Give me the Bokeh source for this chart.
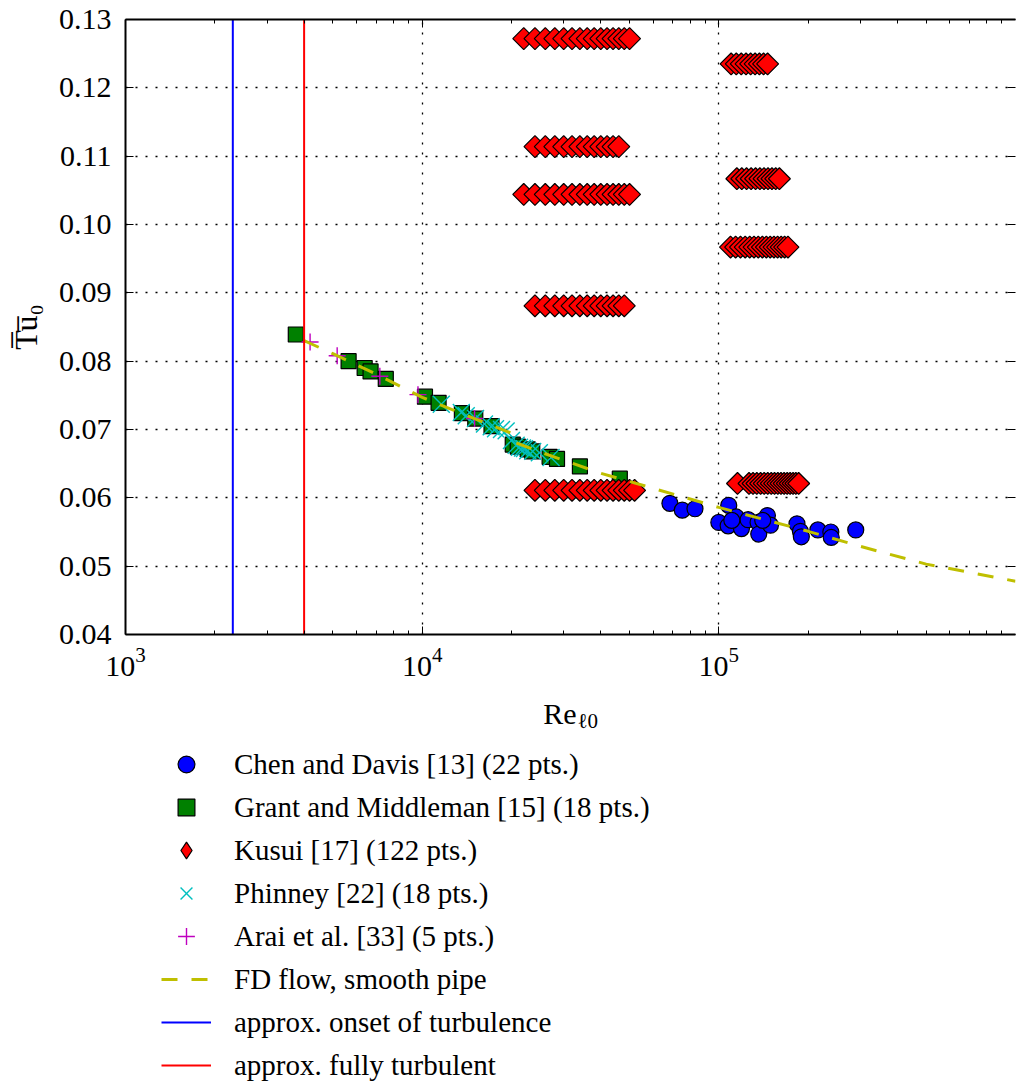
import numpy as np
from bokeh.plotting import figure
from bokeh.layouts import column
from bokeh.models import (FixedTicker, LogAxis, LinearAxis, Legend, LegendItem,
                          Label, PrintfTickFormatter, Range1d, CustomJSTickFormatter)
from bokeh.embed import file_html
from bokeh.resources import INLINE

FONT = "Liberation Serif"

# ---------------- data ----------------
chen_re = [68400, 75300, 83100, 108000, 100000, 107500, 114400, 119200, 125500, 135600, 136300,
           145800, 149300, 183400, 188300, 189700, 215700, 238500, 239300, 289400, 110600, 140600]
chen_tu = [0.0592, 0.0582, 0.0584, 0.0589, 0.0564, 0.0559, 0.0572, 0.0555, 0.0568, 0.0564, 0.0547,
           0.0574, 0.0560, 0.0562, 0.0551, 0.0543, 0.0553, 0.0550, 0.0542, 0.0553, 0.0567, 0.0567]

grant_re = [3750, 5650, 6400, 6700, 7540, 10220, 11360, 13610, 15100, 17130, 20200, 21000,
            22680, 23500, 26890, 28480, 34020, 46370]
grant_tu = [0.0839, 0.0800, 0.0790, 0.0785, 0.0774, 0.0748, 0.0739, 0.0724, 0.0716, 0.0705, 0.0678,
            0.0675, 0.0671, 0.0668, 0.0660, 0.0657, 0.0646, 0.0628]

kusui_rows = [
    (0.1272, [22000, 24000, 26000, 28000, 30000, 32000, 34000, 36000, 38000, 40000, 42000, 44000,
              46000, 48000, 50000]),
    (0.1114, [24000, 26000, 28000, 30000, 32000, 34000, 36000, 38000, 40000, 42000, 44000, 46000]),
    (0.1044, [22000, 24000, 26000, 28000, 30000, 32000, 34000, 36000, 38000, 40000, 42000, 44000,
              46000, 48000, 50000]),
    (0.0881, [24000, 26000, 28000, 30000, 32000, 34000, 36000, 38000, 40000, 42000, 44000, 46000,
              48000]),
    (0.0611, [24000, 26000, 28000, 30000, 32000, 34000, 36000, 38000, 40000, 42000, 44000, 46000,
              48000, 50000, 52000]),
    (0.1235, [110000, 114500, 119000, 123500, 128000, 132500, 137000, 141500, 146000]),
    (0.1067, [115000, 119500, 124000, 128500, 133000, 137500, 142000, 146500, 151000, 155500,
              160000]),
    (0.0967, [109500, 113900, 118300, 122700, 127100, 131400, 135800, 140200, 144600, 149000,
              153400, 157800, 162200, 166600, 171000]),
    (0.0621, [115600, 126400, 130400, 134300, 138300, 142200, 146200, 150200, 154100, 158100,
              162000, 166000, 170000, 173900, 177900, 181800, 185800]),
]
kusui_re = [r for tu, row in kusui_rows for r in row]
kusui_tu = [tu for tu, row in kusui_rows for r in row]

phin_re = [11600, 13550, 14080, 15130, 16220, 17090, 17670, 18510, 19190, 20000, 20740, 21280,
           21780, 22120, 22690, 23580, 24830, 27190]
phin_tu = [0.0737, 0.0725, 0.0720, 0.0716, 0.0708, 0.0704, 0.0701, 0.0700, 0.0698, 0.0684, 0.0677,
           0.0674, 0.0673, 0.0672, 0.0669, 0.0668, 0.0666, 0.0659]

arai_re = [4190, 5170, 7200, 9680, 15020]
arai_tu = [0.0828, 0.0808, 0.0778, 0.0751, 0.0716]

fd_re = [4000, 5000, 7000, 10000, 15000, 19900, 20000, 25000, 40000, 60000, 100000, 200000,
         300000, 500000, 1000000]
fd_tu = [0.0830, 0.0811, 0.0781, 0.0747, 0.0716, 0.0695, 0.0683, 0.0667, 0.0636, 0.0614, 0.0586,
         0.0551, 0.0529, 0.0503, 0.0478]

onset_re = 2300
full_re = 4000

x_lo, x_hi = 1e3, 1e6
y_lo, y_hi = 0.04, 0.13
x_major = [1e3, 1e4, 1e5]
x_minor = [m * 10 ** e for e in (3, 4, 5) for m in range(2, 10)]
y_ticks = [0.04, 0.05, 0.06, 0.07, 0.08, 0.09, 0.10, 0.11, 0.12, 0.13]

labels = ["Chen and Davis [13] (22 pts.)",
          "Grant and Middleman [15] (18 pts.)",
          "Kusui [17] (122 pts.)",
          "Phinney [22] (18 pts.)",
          "Arai et al. [33] (5 pts.)",
          "FD flow, smooth pipe",
          "approx. onset of turbulence",
          "approx. fully turbulent"]

# ---------------- styles ----------------
st_chen = dict(marker="circle", size=16, fill_color="#0000ff", line_color="black", line_width=1.2)
st_grant = dict(marker="square", size=15, fill_color="#008000", line_color="black", line_width=1.2)
st_kusui = dict(marker="square", angle=np.pi / 4, size=15.5, fill_color="#ff0000",
                line_color="black", line_width=1.2)
st_kusui_leg = dict(marker="diamond", size=15.5, fill_color="#ff0000",
                    line_color="black", line_width=1.2)
st_phin = dict(marker="x", size=24, line_color="#00bfbf", line_width=1.4)
st_arai = dict(marker="cross", size=17, line_color="#bf00bf", line_width=1.4)
st_fd = dict(line_color="#bfbf00", line_width=3, line_dash="16 14")
st_on = dict(line_color="#0000ff", line_width=2)
st_full = dict(line_color="#ff0000", line_width=2)

# ---------------- main figure ----------------
p = figure(width=1016, height=695, x_axis_type="log",
           x_range=Range1d(x_lo, x_hi), y_range=Range1d(y_lo, y_hi),
           output_backend="svg", toolbar_location=None,
           min_border_left=125, min_border_right=1, min_border_top=19, min_border_bottom=61)
p.outline_line_color = None
p.background_fill_color = "white"
p.border_fill_color = "white"


def style_axis(ax):
    ax.major_tick_in = 8
    ax.major_tick_out = 0
    ax.minor_tick_in = 4
    ax.minor_tick_out = 0
    ax.axis_line_width = 2
    ax.axis_line_color = "black"
    ax.major_tick_line_color = "black"
    ax.minor_tick_line_color = "black"
    ax.major_tick_line_width = 1
    ax.minor_tick_line_width = 1
    ax.major_label_text_font = FONT
    ax.major_label_text_color = "black"
    ax.major_label_text_font_size = "30px"


xa = p.xaxis[0]
xa.ticker = FixedTicker(ticks=x_major, minor_ticks=x_minor)
style_axis(xa)
xa.major_label_standoff = 13

ya = p.yaxis[0]
ya.ticker = FixedTicker(ticks=y_ticks)
style_axis(ya)
ya.minor_tick_line_color = None
ya.formatter = PrintfTickFormatter(format="%.2f")
ya.major_label_standoff = 14
ya.axis_label = "T\u0305u\u0305\u2080"
ya.axis_label_text_font = FONT
ya.axis_label_text_font_size = "32px"
ya.axis_label_text_font_style = "normal"
ya.axis_label_text_color = "black"
ya.axis_label_standoff = 12

top = LogAxis(ticker=FixedTicker(ticks=x_major, minor_ticks=x_minor))
style_axis(top)
top.major_label_text_font_size = "1px"
top.major_label_text_color = None
top.major_label_standoff = 0
p.add_layout(top, "above")

right = LinearAxis(ticker=FixedTicker(ticks=y_ticks))
style_axis(right)
right.axis_line_color = None
right.minor_tick_line_color = None
right.formatter = CustomJSTickFormatter(code="return ''")
right.major_label_text_font_size = "1px"
right.major_label_text_color = None
right.major_label_standoff = 0
p.add_layout(right, "right")

for g in (p.xgrid[0], p.ygrid[0]):
    g.grid_line_color = "black"
    g.grid_line_dash = "2 8"
    g.grid_line_width = 1.3
p.xgrid[0].ticker = FixedTicker(ticks=x_major)
p.ygrid[0].ticker = FixedTicker(ticks=y_ticks)

p.scatter(chen_re, chen_tu, **st_chen)
p.scatter(grant_re, grant_tu, **st_grant)
p.scatter(kusui_re, kusui_tu, **st_kusui)
p.scatter(phin_re, phin_tu, **st_phin)
p.scatter(arai_re, arai_tu, **st_arai)
p.line(fd_re, fd_tu, **st_fd)
p.line([onset_re, onset_re], [y_lo, y_hi], **st_on)
p.line([full_re, full_re], [y_lo, y_hi], **st_full)

# ---------------- legend / x-label strip ----------------
# same series drawn again on a strip whose 0..1 ranges keep them out of view:
# only their legend samples show there.
q = figure(width=1016, height=388, x_range=Range1d(0, 1), y_range=Range1d(0, 1),
           output_backend="svg", toolbar_location=None,
           min_border=0, min_border_left=0, min_border_right=0, min_border_top=0,
           min_border_bottom=0)
q.axis.visible = False
q.grid.visible = False
q.outline_line_color = None
q.background_fill_color = "white"
q.border_fill_color = "white"

lr = [q.scatter(chen_re, chen_tu, **st_chen),
      q.scatter(grant_re, grant_tu, **st_grant),
      q.scatter(kusui_re, kusui_tu, **st_kusui_leg),
      q.scatter(phin_re, phin_tu, **st_phin),
      q.scatter(arai_re, arai_tu, **st_arai),
      q.line(fd_re, fd_tu, **st_fd),
      q.line([onset_re, onset_re], [y_lo, y_hi], **st_on),
      q.line([full_re, full_re], [y_lo, y_hi], **st_full)]

legend = Legend(items=[LegendItem(label=l, renderers=[r]) for l, r in zip(labels, lr)],
                location=(36, -3), orientation="vertical",
                glyph_width=50, glyph_height=42, label_standoff=23, spacing=1,
                padding=0, margin=0, border_line_color=None, background_fill_alpha=0,
                label_text_font=FONT, label_text_font_size="29px",
                label_text_baseline="middle", label_text_color="black")
q.add_layout(legend)

q.add_layout(Label(x=451, y=370, x_units="screen", y_units="screen", text="Re",
                   text_align="right", text_baseline="alphabetic", text_font=FONT,
                   text_font_size="30px", text_color="black"))
q.add_layout(Label(x=452, y=363, x_units="screen", y_units="screen", text="\u21130",
                   text_align="left", text_baseline="alphabetic", text_font=FONT,
                   text_font_size="21px", text_color="black"))

open("out.html", "w").write(file_html(column(p, q, spacing=0), INLINE))
